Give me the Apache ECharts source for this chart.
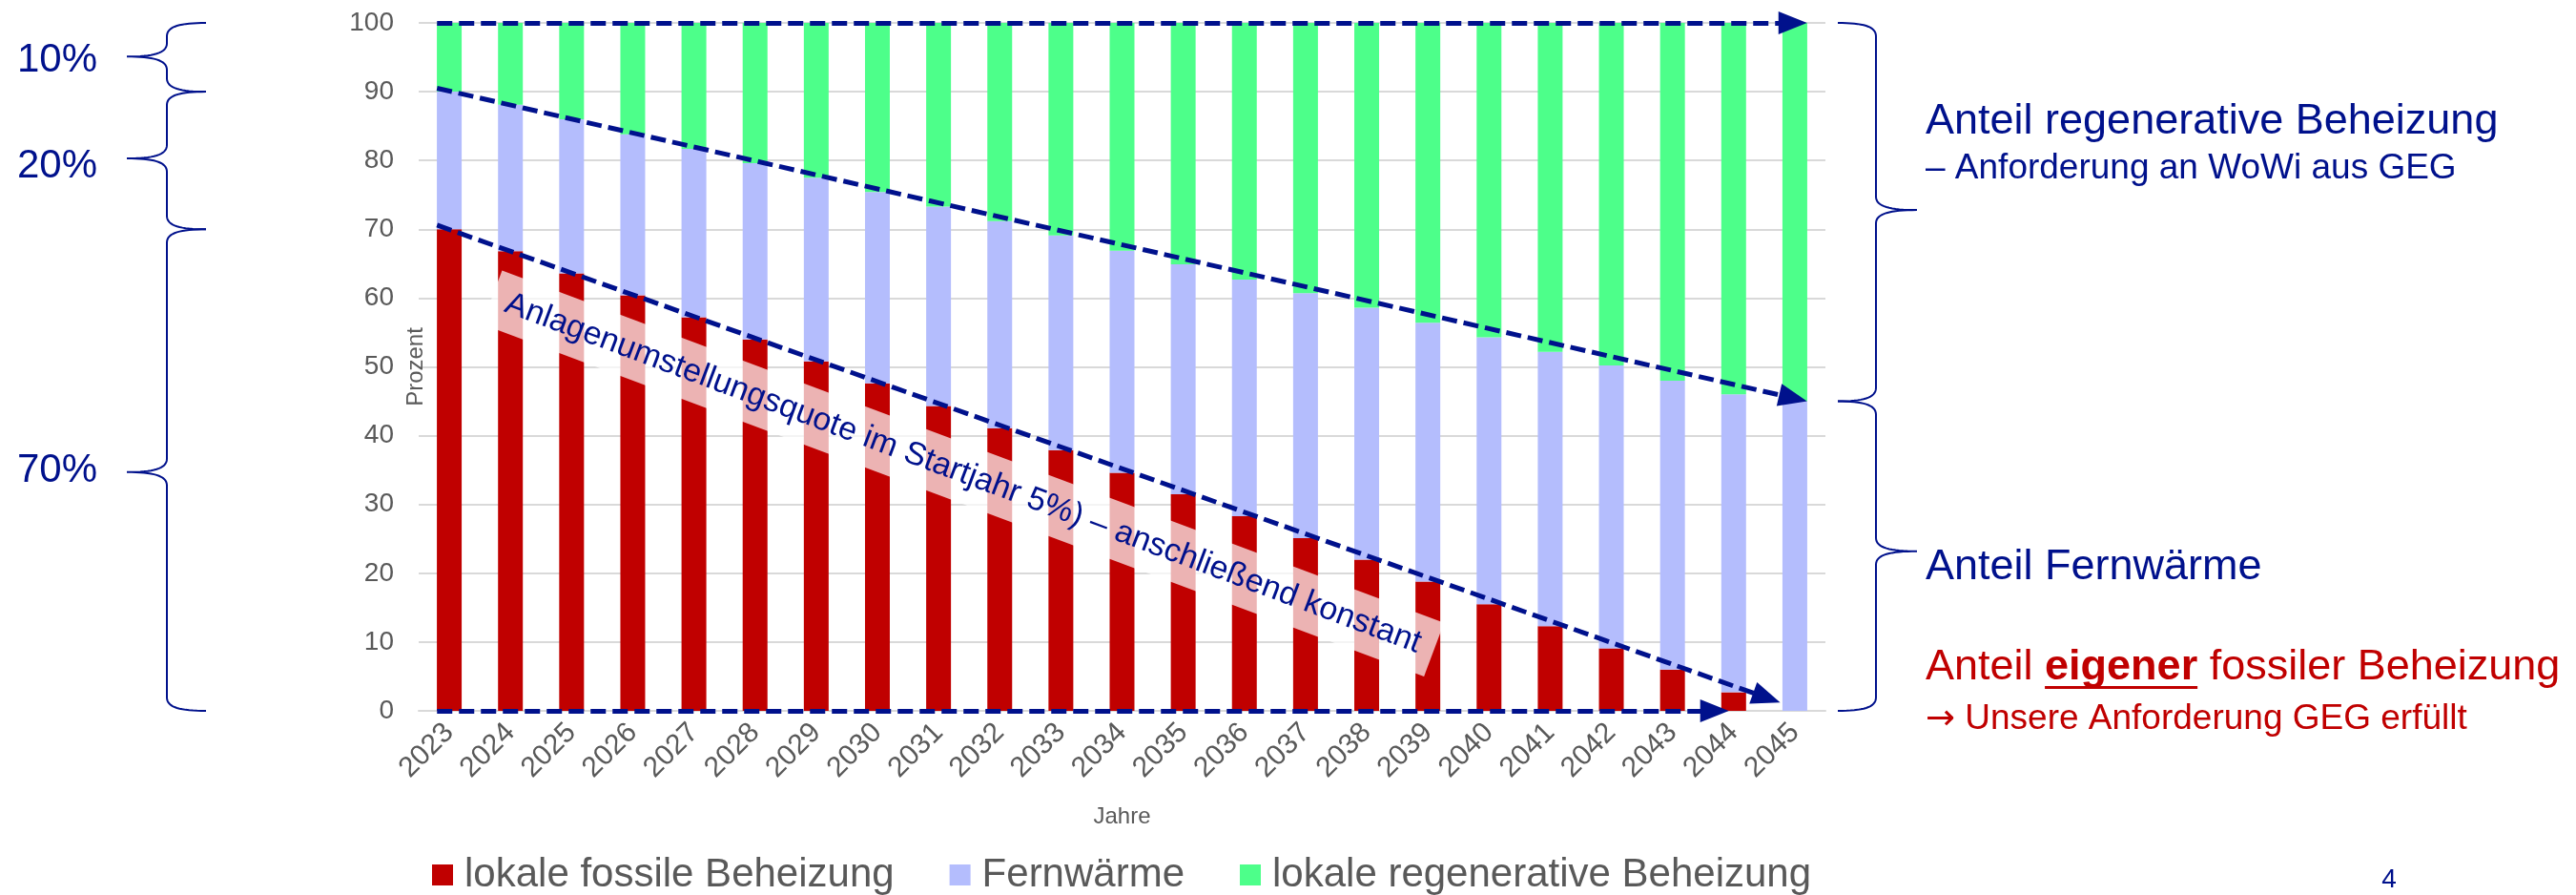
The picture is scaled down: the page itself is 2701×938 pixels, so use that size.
<!DOCTYPE html>
<html>
<head>
<meta charset="utf-8">
<script src="https://cdn.jsdelivr.net/npm/echarts/dist/echarts.min.js"></script>
<style>
html,body{margin:0;padding:0;background:#ffffff;}
#c{width:2701px;height:938px;}
</style>
</head>
<body>
<div id="c"></div>
<script>
// ---------- data ----------
const years = ['2023','2024','2025','2026','2027','2028','2029','2030','2031','2032','2033','2034',
               '2035','2036','2037','2038','2039','2040','2041','2042','2043','2044','2045'];
const fossil      = [70.0,66.8,63.6,60.4,57.2,54.0,50.8,47.6,44.3,41.1,37.9,34.6,31.5,28.3,25.1,22.0,18.8,15.5,12.3,9.1,6.0,2.7,0.0];
const fernwaerme  = [20.0,21.3,22.4,23.4,24.5,25.6,26.7,27.8,29.0,30.1,31.2,32.3,33.4,34.4,35.6,36.6,37.6,38.8,39.9,41.1,42.0,43.3,45.0];
const regenerativ = [10.0,11.9,14.0,16.2,18.3,20.4,22.5,24.6,26.7,28.8,30.9,33.1,35.1,37.3,39.3,41.4,43.6,45.7,47.8,49.8,52.0,54.0,55.0];
const seriesNames = ['lokale fossile Beheizung','Fernwärme','lokale regenerative Beheizung'];
const yMin = 0, yMax = 100, yStep = 10;

// dashed guide lines: [start, arrow tip] as [year, percent]
const lineTop    = [[2022.8, 100.0], [2045.2, 100.0]];
const lineRegen  = [[2022.8, 90.5],  [2045.2, 45.0]];
const lineFossil = [[2022.8, 70.6],  [2044.76, 1.2]];
const lineBase   = [[2022.8, 0.0],   [2043.92, 0.0]];

// braces: [from %, to %, tip %, label, label %]
const leftBraces  = [[100, 90, 95.1, '10%', 94.6], [90, 70, 80.3, '20%', 79.2], [70, 0, 34.7, '70%', 34.9]];
const rightBraces = [[100, 45, 72.8], [45, 0, 23.2]];

const diagText = 'Anlagenumstellungsquote im Startjahr 5%) – anschließend konstant';
const diagAnchor = [2031.4, 34.5];

// ---------- style ----------
const FONT = "'Liberation Sans', Arial, sans-serif";
const NAVY = '#00118c';
const RED = '#c00000';
const GRAY = '#595959';
const COLORS = ['#c00000', '#b4bdfd', '#4dff8a'];

const chart = echarts.init(document.getElementById('c'), null, {renderer: 'canvas'});

const option = {
  animation: false,
  backgroundColor: '#ffffff',
  textStyle: {fontFamily: FONT},
  grid: {left: 439, right: 787, top: 24, bottom: 193, containLabel: false, outerBoundsMode: 'none'},
  legend: {
    data: seriesNames, left: 448, top: 891, icon: 'rect', itemWidth: 22, itemHeight: 22, itemGap: 58,
    selectedMode: false,
    textStyle: {fontSize: 42, color: GRAY, fontFamily: FONT, padding: [0, 0, 0, 7]}
  },
  xAxis: [{
    type: 'category', data: years, boundaryGap: true,
    axisTick: {show: false},
    axisLine: {show: true, lineStyle: {color: '#d9d9d9', width: 2}},
    axisLabel: {rotate: 45, fontSize: 30, color: GRAY, margin: 18, interval: 0, fontFamily: FONT},
    name: 'Jahre', nameLocation: 'middle', nameGap: 99, nameMoveOverlap: false,
    nameTextStyle: {fontSize: 24, color: GRAY, fontFamily: FONT}
  }, {
    type: 'value', min: 2022.5, max: 2045.5, show: false
  }],
  yAxis: {
    type: 'value', min: yMin, max: yMax, interval: yStep,
    axisLine: {show: false}, axisTick: {show: false},
    axisLabel: {fontSize: 28, color: GRAY, margin: 26, fontFamily: FONT},
    splitLine: {show: true, lineStyle: {color: '#d9d9d9', width: 2}},
    name: 'Prozent', nameLocation: 'middle', nameGap: -9, nameRotate: 90, nameMoveOverlap: false,
    nameTextStyle: {fontSize: 24, color: GRAY, fontFamily: FONT}
  },
  series: [
    {name: seriesNames[0], type: 'bar', stack: 'a', data: fossil, barWidth: 26, itemStyle: {color: COLORS[0]}, silent: true},
    {name: seriesNames[1], type: 'bar', stack: 'a', data: fernwaerme, barWidth: 26, itemStyle: {color: COLORS[1]}, silent: true},
    {name: seriesNames[2], type: 'bar', stack: 'a', data: regenerativ, barWidth: 26, itemStyle: {color: COLORS[2]}, silent: true},
    {type: 'line', xAxisIndex: 1, yAxisIndex: 0, data: [], z: 10, silent: true}
  ]
};
chart.setOption(option);

// ---------- annotations built from axis scales ----------
const P = (pt) => chart.convertToPixel({xAxisIndex: 1, yAxisIndex: 0}, pt);
const PY = (v) => chart.convertToPixel({yAxisIndex: 0}, v);
const ARROW_LEN = 30, ARROW_W = 24;

function arrowLine(def) {
  const a = P(def[0]), t = P(def[1]);
  const dx = t[0] - a[0], dy = t[1] - a[1];
  const L = Math.sqrt(dx * dx + dy * dy);
  const e = [t[0] - dx / L * ARROW_LEN / 2, t[1] - dy / L * ARROW_LEN / 2];
  return [{x: a[0], y: a[1]}, {x: e[0], y: e[1]}];
}

function cubic(pts, p0, p1, p2, p3) {
  for (let i = 1; i <= 16; i++) {
    const t = i / 16, u = 1 - t;
    pts.push([
      u*u*u*p0[0] + 3*u*u*t*p1[0] + 3*u*t*t*p2[0] + t*t*t*p3[0],
      u*u*u*p0[1] + 3*u*u*t*p1[1] + 3*u*t*t*p2[1] + t*t*t*p3[1]
    ]);
  }
}
function bracePoints(xe, xs, xt, y1, y2, ym) {
  const r = Math.min(14, (y2 - y1) / 4);
  const ce = xs + (xe - xs) * 0.35, ct = xs + (xt - xs) * 0.35;
  const pts = [[xe, y1]];
  cubic(pts, [xe, y1], [ce, y1], [xs, y1 + r * 0.25], [xs, y1 + r]);
  pts.push([xs, ym - r]);
  cubic(pts, [xs, ym - r], [xs, ym - r * 0.25], [ct, ym], [xt, ym]);
  cubic(pts, [xt, ym], [ct, ym], [xs, ym + r * 0.25], [xs, ym + r]);
  pts.push([xs, y2 - r]);
  cubic(pts, [xs, y2 - r], [xs, y2 - r * 0.25], [ce, y2], [xe, y2]);
  return pts;
}

const graphics = [];
leftBraces.forEach(b => {
  const y1 = PY(b[0]), y2 = PY(b[1]), ym = PY(b[2]);
  graphics.push({type: 'polyline', z: 100, silent: true,
    shape: {points: bracePoints(216, 175, 133, y1, y2, ym)},
    style: {stroke: NAVY, lineWidth: 2, fill: null}});
  graphics.push({type: 'text', z: 100, silent: true, x: 60, y: PY(b[4]),
    style: {text: b[3], font: '42px ' + FONT, fill: NAVY, align: 'center', verticalAlign: 'middle'}});
});
rightBraces.forEach(b => {
  const y1 = PY(b[0]), y2 = PY(b[1]), ym = PY(b[2]);
  graphics.push({type: 'polyline', z: 100, silent: true,
    shape: {points: bracePoints(1927, 1967, 2010, y1, y2, ym)},
    style: {stroke: NAVY, lineWidth: 2, fill: null}});
});

// diagonal annotation with translucent box
const da = P(diagAnchor);
graphics.push({type: 'text', z: 60, silent: true, x: da[0], y: da[1], rotation: -20.5 * Math.PI / 180,
  style: {text: diagText, font: '34px ' + FONT, fill: NAVY, align: 'center', verticalAlign: 'middle',
          backgroundColor: 'rgba(255,255,255,0.7)', padding: [13, 16]}});

// right-side texts
const TX = 2019;
graphics.push({type: 'text', z: 100, silent: true, x: TX, y: 128,
  style: {text: 'Anteil regenerative Beheizung', font: '45px ' + FONT, fill: NAVY, align: 'left', verticalAlign: 'middle'}});
graphics.push({type: 'text', z: 100, silent: true, x: TX, y: 177,
  style: {text: '– Anforderung an WoWi aus GEG', font: '37px ' + FONT, fill: NAVY, align: 'left', verticalAlign: 'middle'}});
graphics.push({type: 'text', z: 100, silent: true, x: TX, y: 595,
  style: {text: 'Anteil Fernwärme', font: '45px ' + FONT, fill: NAVY, align: 'left', verticalAlign: 'middle'}});
graphics.push({type: 'text', z: 100, silent: true, x: TX, y: 700,
  style: {text: 'Anteil {b|eigener} fossiler Beheizung', font: '45px ' + FONT, fill: RED, align: 'left', verticalAlign: 'middle',
          rich: {b: {fontWeight: 'bold', fontSize: 45, fontFamily: FONT, fill: RED}}}});
// underline for "eigener"
const mc = document.createElement('canvas').getContext('2d');
mc.font = '45px ' + FONT;
const w0 = mc.measureText('Anteil ').width;
mc.font = 'bold 45px ' + FONT;
const w1 = mc.measureText('eigener').width;
graphics.push({type: 'rect', z: 100, silent: true, shape: {x: TX + w0, y: 719, width: w1, height: 3}, style: {fill: RED}});
graphics.push({type: 'text', z: 100, silent: true, x: TX, y: 754,
  style: {text: '{a|→} Unsere Anforderung GEG erfüllt', font: '37px ' + FONT, fill: RED, align: 'left', verticalAlign: 'middle',
          rich: {a: {fontFamily: "'DejaVu Sans', sans-serif", fontSize: 37, fill: RED}}}});
graphics.push({type: 'text', z: 100, silent: true, x: 2505, y: 922,
  style: {text: '4', font: '28px ' + FONT, fill: NAVY, align: 'center', verticalAlign: 'middle'}});

chart.setOption({
  graphic: graphics,
  series: [{}, {}, {}, {
    markLine: {
      silent: true, symbol: ['none', 'triangle'], symbolSize: [ARROW_W, ARROW_LEN],
      label: {show: false}, emphasis: {disabled: true}, animation: false,
      lineStyle: {color: NAVY, width: 5, type: [16, 7], opacity: 1},
      data: [arrowLine(lineTop), arrowLine(lineRegen), arrowLine(lineFossil), arrowLine(lineBase)]
    }
  }]
});
</script>
</body>
</html>
